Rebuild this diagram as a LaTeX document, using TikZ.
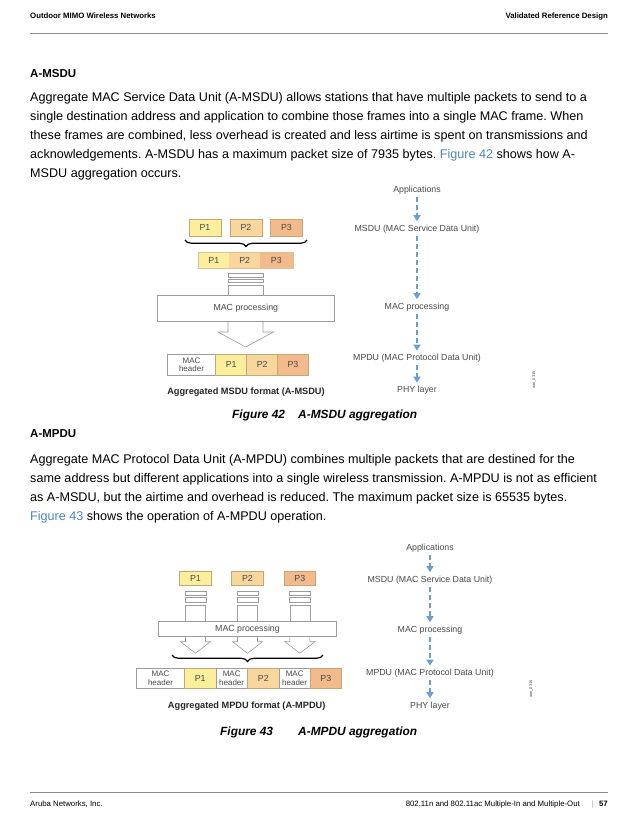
\documentclass[tikz,border=0pt]{standalone}
\usepackage{fontspec}
\setmainfont{Liberation Sans}
\usetikzlibrary{decorations.pathreplacing,arrows.meta}
\definecolor{pone}{HTML}{FBEE9C}
\definecolor{ptwo}{HTML}{F9D69C}
\definecolor{pthree}{HTML}{F3BA8C}
\definecolor{pline}{HTML}{C2A878}
\definecolor{gline}{HTML}{9C9C9C}
\definecolor{dtext}{HTML}{4A4A4A}
\definecolor{flowblue}{HTML}{6A9FD2}
\definecolor{linkblue}{HTML}{4F86B5}
\definecolor{rulegray}{HTML}{8C8C8C}
\begin{document}
\begin{tikzpicture}[x=1pt,y=-1pt,
  bodyline/.style={anchor=base west,inner sep=0pt,font=\fontsize{12.6}{14}\selectfont\frenchspacing},
  headtitle/.style={anchor=base west,inner sep=0pt,font=\bfseries\fontsize{11.5}{13}\selectfont},
  smallhead/.style={inner sep=0pt,font=\bfseries\fontsize{7.8}{9}\selectfont},
  foot/.style={inner sep=0pt,font=\fontsize{7.8}{9}\selectfont},
  figcap/.style={anchor=base west,inner sep=0pt,font=\bfseries\itshape\fontsize{11.9}{13}\selectfont},
  lbl/.style={inner sep=1.5pt,text=dtext,font=\fontsize{8.8}{10}\selectfont},
  cell/.style={draw=pline,line width=0.6pt,inner sep=0pt,text=dtext,font=\fontsize{8.8}{10}\selectfont},
  hcell/.style={draw=gline,fill=white,line width=0.6pt,inner sep=0pt,align=center,text=dtext,font=\fontsize{8}{8.6}\selectfont},
  gbox/.style={draw=gline,fill=white,line width=0.6pt,inner sep=0pt,text=dtext,font=\fontsize{8.8}{10}\selectfont},
  gshape/.style={draw=gline,line width=0.6pt},
  subcap/.style={inner sep=0pt,text=black!85,font=\bfseries\fontsize{9.2}{11}\selectfont},
  flow/.style={draw=flowblue,line width=1.4pt,dash pattern=on 5pt off 3pt,-{Triangle[width=7pt,length=6pt]},shorten <=1pt,shorten >=2pt},
  curly/.style={decorate,decoration={brace,amplitude=6.5pt,mirror},line width=1.2pt},
  tag/.style={inner sep=0pt,rotate=90,text=dtext,font=\fontsize{4}{5}\selectfont}]
\useasboundingbox (0,0) rectangle (638,826);
\fill[white] (0,0) rectangle (638,826);

% header and footer
\node[smallhead,anchor=base west] (hl) at (30,19) {Outdoor MIMO Wireless Networks};
\node[smallhead,anchor=base east] (hr) at (608,19) {Validated Reference Design};
\draw[rulegray,line width=0.6pt] (30,33) -- (608,33);
\draw[rulegray,line width=0.6pt] (30,792) -- (608,792);
\node[foot,anchor=base west] (fl) at (30,806) {Aruba Networks, Inc.};
\node[foot,anchor=base east,font=\bfseries\fontsize{7.8}{9}\selectfont] (fpage) at (608,806) {57};
\node[foot,anchor=base east,text=black!35] (fbar) at (594,806) {|};
\node[foot,anchor=base east] (fr) at (580,806) {802.11n and 802.11ac Multiple-In and Multiple-Out};

% section A-MSDU
\node[headtitle] (t1) at (30,78) {A-MSDU};
\node[bodyline] (a1) at (30,102) {Aggregate MAC Service Data Unit (A-MSDU) allows stations that have multiple packets to send to a};
\node[bodyline] (a2) at (30,121) {single destination address and application to combine those frames into a single MAC frame. When};
\node[bodyline] (a3) at (30,140) {these frames are combined, less overhead is created and less airtime is spent on transmissions and};
\node[bodyline] (a4) at (30,159) {acknowledgements. A-MSDU has a maximum packet size of 7935 bytes. \textcolor{linkblue}{Figure 42} shows how A-};
\node[bodyline] (a5) at (30,178) {MSDU aggregation occurs.};

% figure 42 left
\node[cell,fill=pone,minimum width=32,minimum height=17] (p1a) at (205,227.5) {P1};
\node[cell,fill=ptwo,minimum width=32,minimum height=17] (p2a) at (246,227.5) {P2};
\node[cell,fill=pthree,minimum width=31.6,minimum height=17] (p3a) at (286.5,227.5) {P3};
\draw[curly] (185,240) -- (307,240);
\node[cell,draw=none,fill=pone,minimum width=31,minimum height=15.6] (q1) at (213.8,260.5) {P1};
\node[cell,draw=none,fill=ptwo,minimum width=30.7,minimum height=15.6] (q2) at (244.65,260.5) {P2};
\node[cell,draw=none,fill=pthree,minimum width=32.7,minimum height=15.6] (q3) at (276.35,260.5) {P3};
\draw[pline!70,line width=0.5pt] (q1.north west) rectangle (q3.south east);
\draw[gshape] (228,273) rectangle (263,277);
\draw[gshape] (228,279) rectangle (263,282.5);
\draw[gshape] (228,295) -- (228,285) -- (263,285) -- (263,295);
\node[gbox,minimum width=177,minimum height=26.7] (mac1) at (245.8,308.35) {MAC processing};
\draw[gshape] (228,321.7) -- (228,332) -- (218,332) -- (245.7,347) -- (273.5,332) -- (263,332) -- (263,321.7);
\node[hcell,minimum width=48.4,minimum height=20.7] (mh1) at (191.5,364.65) {MAC\\header};
\node[cell,fill=pone,minimum width=31,minimum height=20.7] (r1) at (231.2,364.65) {P1};
\node[cell,fill=ptwo,minimum width=31,minimum height=20.7] (r2) at (262.2,364.65) {P2};
\node[cell,fill=pthree,minimum width=30.6,minimum height=20.7] (r3) at (293,364.65) {P3};
\node[subcap] (sc1) at (246,392) {Aggregated MSDU format (A-MSDU)};

% figure 42 right
\node[lbl] (app1) at (417,190) {Applications};
\node[lbl] (msdu1) at (417,229) {MSDU (MAC Service Data Unit)};
\node[lbl] (macp1) at (417,307) {MAC processing};
\node[lbl] (mpdu1) at (417,358.5) {MPDU (MAC Protocol Data Unit)};
\node[lbl] (phy1) at (417,390.5) {PHY layer};
\draw[flow] (app1) -- (msdu1);
\draw[flow] (msdu1) -- (macp1);
\draw[flow] (macp1) -- (mpdu1);
\draw[flow] (mpdu1) -- (phy1);
\node[tag] (tag1) at (534,380) {aan\_0315};

\node[figcap] (f42) at (232,418) {Figure 42};
\node[figcap] (f42t) at (298,418) {A-MSDU aggregation};

% section A-MPDU
\node[headtitle] (t2) at (30,437) {A-MPDU};
\node[bodyline] (b1) at (30,463) {Aggregate MAC Protocol Data Unit (A-MPDU) combines multiple packets that are destined for the};
\node[bodyline] (b2) at (30,482) {same address but different applications into a single wireless transmission. A-MPDU is not as efficient};
\node[bodyline] (b3) at (30,501) {as A-MSDU, but the airtime and overhead is reduced. The maximum packet size is 65535 bytes.};
\node[bodyline] (b4) at (30,520) {\textcolor{linkblue}{Figure 43} shows the operation of A-MPDU operation.};

% figure 43 left
\node[cell,fill=pone,minimum width=32,minimum height=14.5] (s1) at (195.5,578.25) {P1};
\node[cell,fill=ptwo,minimum width=31.6,minimum height=14.5] (s2) at (247.5,578.25) {P2};
\node[cell,fill=pthree,minimum width=31.7,minimum height=14.5] (s3) at (299.85,578.25) {P3};
\foreach \cx in {195.5,247.5,299.85}{
  \draw[gshape] (\cx-10.5,591.7) rectangle (\cx+10.5,595);
  \draw[gshape] (\cx-10.5,597.3) rectangle (\cx+10.5,602);
  \draw[gshape] (\cx-10,621.7) -- (\cx-10,605) -- (\cx+10,605) -- (\cx+10,621.7);
  \draw[gshape] (\cx-10,636) -- (\cx-10,641.7) -- (\cx-15,641.7) -- (\cx,653.3) -- (\cx+15,641.7) -- (\cx+10,641.7) -- (\cx+10,636);
}
\node[gbox,minimum width=178.4,minimum height=14.3] (mac2) at (247.5,628.85) {MAC processing};
\draw[curly] (172,655) -- (323,655);
\node[hcell,minimum width=47.6,minimum height=20] (mh2a) at (160.5,678.3) {MAC\\header};
\node[cell,fill=pone,minimum width=31.7,minimum height=20] (u1) at (200.15,678.3) {P1};
\node[hcell,minimum width=31.3,minimum height=20] (mh2b) at (231.65,678.3) {MAC\\header};
\node[cell,fill=ptwo,minimum width=32,minimum height=20] (u2) at (263.3,678.3) {P2};
\node[hcell,minimum width=30.7,minimum height=20] (mh2c) at (294.65,678.3) {MAC\\header};
\node[cell,fill=pthree,minimum width=31.7,minimum height=20] (u3) at (325.85,678.3) {P3};
\node[subcap] (sc2) at (246.7,706.5) {Aggregated MPDU format (A-MPDU)};

% figure 43 right
\node[lbl] (app2) at (430,548) {Applications};
\node[lbl] (msdu2) at (430,580) {MSDU (MAC Service Data Unit)};
\node[lbl] (macp2) at (430,630) {MAC processing};
\node[lbl] (mpdu2) at (430,673.5) {MPDU (MAC Protocol Data Unit)};
\node[lbl] (phy2) at (430,706) {PHY layer};
\draw[flow] (app2) -- (msdu2);
\draw[flow] (msdu2) -- (macp2);
\draw[flow] (macp2) -- (mpdu2);
\draw[flow] (mpdu2) -- (phy2);
\node[tag] (tag2) at (531,689) {aan\_0316};

\node[figcap] (f43) at (220,735) {Figure 43};
\node[figcap] (f43t) at (298,735) {A-MPDU aggregation};
\end{tikzpicture}
\end{document}
